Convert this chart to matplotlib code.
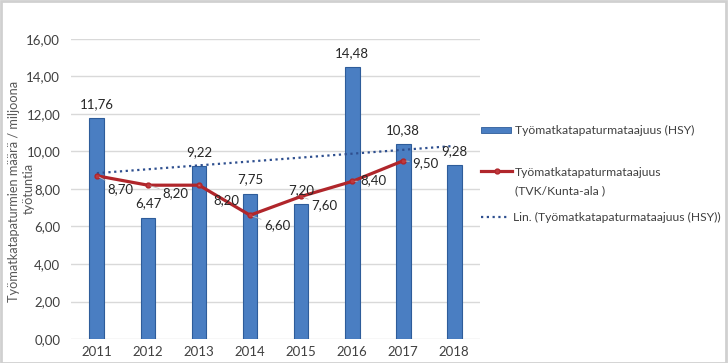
import numpy as np
import matplotlib.pyplot as plt
from matplotlib.patches import Rectangle
from matplotlib.lines import Line2D

plt.rcParams['font.family'] = ['Lato', 'DejaVu Sans']

years = [2011, 2012, 2013, 2014, 2015, 2016, 2017, 2018]
hsy = [11.76, 6.47, 9.22, 7.75, 7.20, 14.48, 10.38, 9.28]
tvk_years = [2011, 2012, 2013, 2014, 2015, 2016, 2017]
tvk = [8.70, 8.20, 8.20, 6.60, 7.60, 8.40, 9.50]
yticks = [0, 2, 4, 6, 8, 10, 12, 14, 16]

# label offsets for the red line values (pixels)
tvk_offsets = [(24, -13), (27, -8), (27, -15), (27, -10), (23, -9), (21, 1), (22, -2)]

BLUE = '#4A7EC2'
BLUE_EDGE = '#2E5C9A'
RED = '#B0262B'
TREND = '#2E4F8F'
W, H = 728, 363

def fmt(v):
    return f"{v:.2f}".replace('.', ',')

def px(xp, yp):
    return xp / W, 1 - yp / H

fig = plt.figure(figsize=(W / 100, H / 100), dpi=100)
ax = fig.add_axes([0.098, 0.066, 0.561, 0.827])

x = np.arange(len(years))
ax.bar(x, hsy, width=0.29, color=BLUE, edgecolor=BLUE_EDGE, linewidth=0.8, zorder=2)

# bar value labels
for xi, v in zip(x, hsy):
    ax.annotate(fmt(v), (xi, v), xytext=(0, 8), textcoords='offset pixels',
                ha='center', va='bottom', fontsize=9.5, color='#262626', zorder=5)

# linear trend of HSY (like Excel's trendline)
k, b = np.polyfit(x + 1, hsy, 1)
ax.plot(x, k * (x + 1) + b, linestyle=(0, (1, 1.6)), color=TREND, linewidth=1.6, zorder=3)

xl = np.arange(len(tvk_years))
ax.plot(xl, tvk, color=RED, linewidth=2.3, marker='o', markersize=3.5,
        markerfacecolor='#C0393D', markeredgecolor=RED, zorder=4)

for xi, v, off in zip(xl, tvk, tvk_offsets):
    ax.annotate(fmt(v), (xi, v), xytext=off, textcoords='offset pixels',
                ha='center', va='center', fontsize=9.5, color='#262626', zorder=5,
                arrowprops=dict(arrowstyle='-', color='#BFBFBF', lw=0.6, shrinkA=9, shrinkB=2))

ax.set_xlim(-0.5, len(years) - 0.5)
ax.set_ylim(0, 16)
ax.set_yticks(yticks)
ax.set_yticklabels([fmt(t) for t in yticks])
ax.set_xticks(x)
ax.set_xticklabels([str(y) for y in years])
ax.tick_params(axis='both', length=0, labelsize=9.5, labelcolor='#404040')
ax.tick_params(axis='y', pad=8)
ax.tick_params(axis='x', pad=5)
ax.grid(axis='y', color='#D9D9D9', linewidth=1, zorder=0)
ax.set_axisbelow(True)
for s in ax.spines.values():
    s.set_visible(False)

# y axis title, two lines placed separately
fig.text(*px(14, 191), 'Työmatkatapaturmien määrä / miljoona', rotation=90,
         ha='center', va='center', fontsize=9.2, color='#595959')
fig.text(*px(29, 188), 'työtuntia', rotation=90,
         ha='center', va='center', fontsize=9.2, color='#595959')

# legend drawn by hand to place the entries like the original
leg_fs = 8.7
fig.patches.append(Rectangle(px(481, 133), 30 / W, 6 / H, transform=fig.transFigure,
                             facecolor=BLUE, edgecolor=BLUE_EDGE, linewidth=0.6))
fig.text(*px(515, 130), 'Työmatkatapaturmataajuus (HSY)', fontsize=leg_fs,
         color='#404040', va='center', ha='left')

fig.lines.append(Line2D([481 / W, 512 / W], [1 - 171 / H] * 2, transform=fig.transFigure,
                        color=RED, linewidth=2.3))
fig.lines.append(Line2D([496.5 / W], [1 - 171 / H], transform=fig.transFigure,
                        marker='o', markersize=3.5, color=RED, markerfacecolor='#C0393D'))
fig.text(*px(515, 172), 'Työmatkatapaturmataajuus', fontsize=leg_fs,
         color='#404040', va='center', ha='left')
fig.text(*px(515, 191), '(TVK/Kunta-ala )', fontsize=leg_fs,
         color='#404040', va='center', ha='left')

fig.lines.append(Line2D([481 / W, 508 / W], [1 - 217 / H] * 2, transform=fig.transFigure,
                        color=TREND, linestyle=(0, (1, 1.6)), linewidth=1.6))
fig.text(*px(513, 217), 'Lin. (Työmatkatapaturmataajuus (HSY))', fontsize=leg_fs,
         color='#404040', va='center', ha='left')

fig.patches.append(Rectangle((0.001, 0.001), 0.996, 0.996, transform=fig.transFigure,
                             fill=False, edgecolor='#D0D0D0', linewidth=2))

fig.savefig('out.png', dpi=100)
